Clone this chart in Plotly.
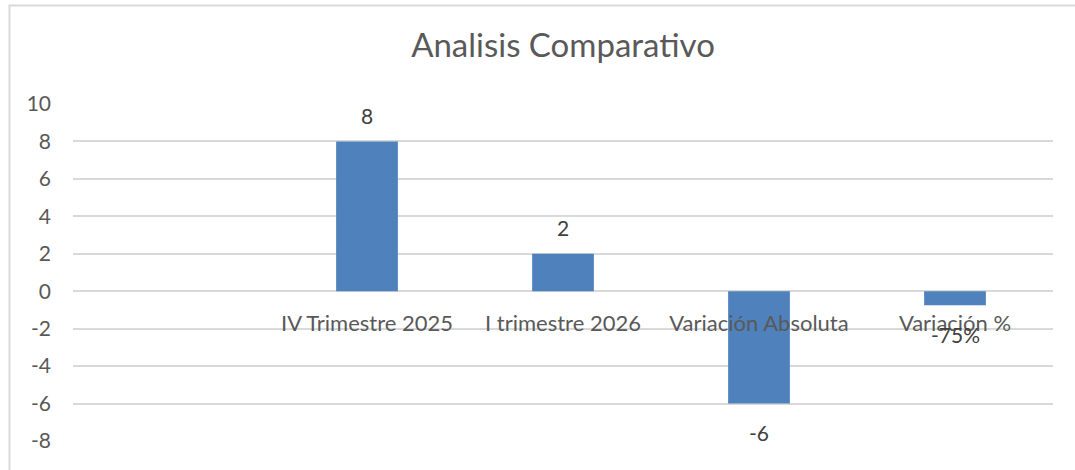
import plotly.graph_objects as go

# Chart data
categories = ["", "IV Trimestre 2025", "I trimestre 2026", "Variación Absoluta", "Variación %"]
values = [None, 8, 2, -6, -0.75]
label_formats = [None, "{:.0f}", "{:.0f}", "{:.0f}", "{:.0%}"]
y_ticks = [10, 8, 6, 4, 2, 0, -2, -4, -6, -8]

FONT = "Lato"
GRID = "#d9d9d9"
BAR = "#4f81bd"

positions = list(range(len(categories)))
bar_x = [p for p, v in zip(positions, values) if v is not None]
bar_y = [v for v in values if v is not None]
bar_text = [f.format(v) for f, v in zip(label_formats, values) if v is not None]

fig = go.Figure()
fig.add_trace(go.Bar(
    x=bar_x, y=bar_y, width=0.315,
    marker=dict(color=BAR, line=dict(width=0)),
    hoverinfo="skip",
))

# value labels sitting just beyond the end of each bar
for x, y, t in zip(bar_x, bar_y, bar_text):
    fig.add_annotation(
        x=x, y=y, text=t, showarrow=False, xref="x", yref="y",
        yshift=26 if y >= 0 else -29,
        font=dict(family=FONT, size=21, color="#404040"),
    )

y_min, y_max = -8, 10
zero_frac = (0 - y_min) / (y_max - y_min)

fig.update_layout(
    width=1075, height=470,
    margin=dict(l=73, r=22, t=104, b=29),
    paper_bgcolor="white", plot_bgcolor="white",
    showlegend=False,
    title=dict(
        text="Analisis Comparativo", x=0.5, xanchor="center",
        y=1 - 45 / 470, yanchor="middle", xref="paper",
        font=dict(family=FONT, size=33, color="#595959"),
    ),
    xaxis=dict(
        range=[-0.5, len(categories) - 0.5],
        tickvals=positions, ticktext=categories,
        showgrid=False, zeroline=False,
        showline=False, ticks="",
        anchor="free", position=zero_frac,
        ticklabelstandoff=17,
        tickfont=dict(family=FONT, size=22, color="#595959"),
    ),
    yaxis=dict(
        range=[y_min, y_max], tickvals=y_ticks,
        ticktext=[str(v) for v in y_ticks],
        showgrid=True, gridcolor=GRID, gridwidth=1.5,
        zeroline=True, zerolinecolor=GRID, zerolinewidth=1.5,
        showline=False, ticks="",
        ticklabelstandoff=21,
        tickfont=dict(family=FONT, size=21, color="#595959"),
    ),
    shapes=[dict(
        type="rect", xref="paper", yref="paper",
        x0=-63.5 / 980, x1=1.1, y0=-0.2, y1=1 + 98.5 / 337,
        line=dict(color=GRID, width=2), fillcolor="rgba(0,0,0,0)", layer="below",
    )],
)

fig.write_html("out.html")
